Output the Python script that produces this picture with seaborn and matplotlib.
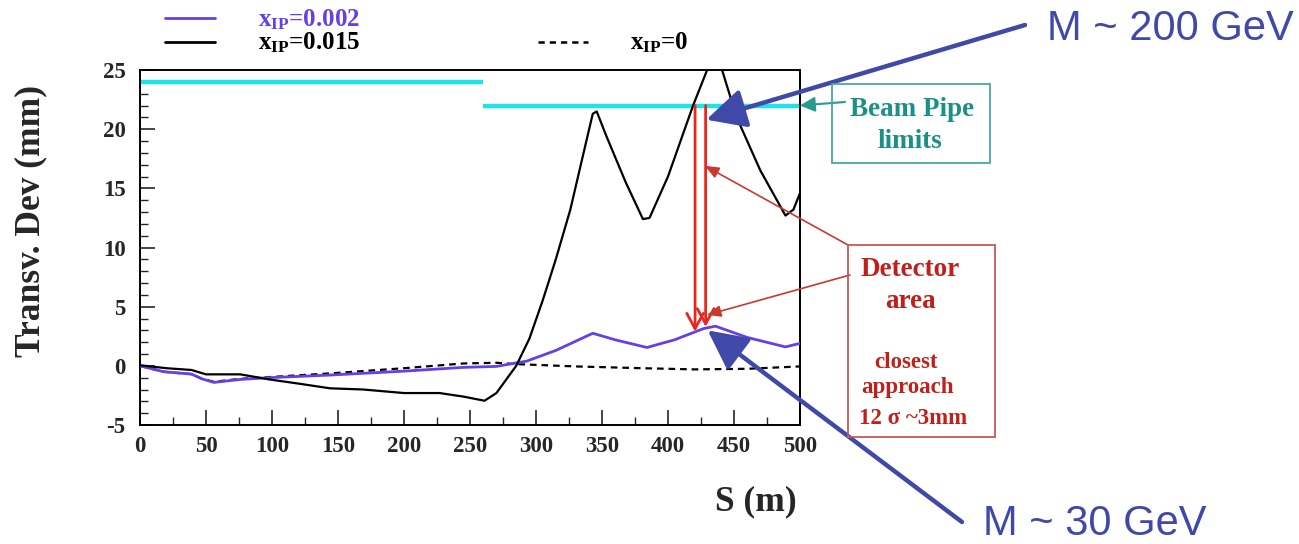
import numpy as np
import pandas as pd
import matplotlib
matplotlib.use("Agg")
import matplotlib.pyplot as plt
from matplotlib.patches import Rectangle
from matplotlib.lines import Line2D
from matplotlib.ticker import MultipleLocator
import seaborn as sns

# ---------------- data ----------------
s_015 = [0, 20, 39, 50, 76, 98, 120, 144, 169, 200, 227, 245, 261, 270, 285, 295,
         305, 315, 326, 335, 343, 346, 353, 368, 381, 386, 400, 419, 436, 452, 470, 489, 495, 500]
v_015 = [0.05, -0.2, -0.35, -0.72, -0.72, -1.15, -1.5, -1.9, -2.0, -2.3, -2.3, -2.6, -2.95, -2.3, 0.0, 2.3,
         5.5, 9.0, 13.2, 17.5, 21.3, 21.5, 19.5, 15.5, 12.4, 12.5, 16.0, 22.0, 26.8, 21.0, 16.5, 12.7, 13.2, 14.6]

s_002 = [0, 18, 39, 47, 56, 76, 98, 144, 200, 245, 270, 293, 315, 343, 360, 384, 405, 427, 436, 460, 489, 500]
v_002 = [0.0, -0.5, -0.7, -1.1, -1.4, -1.15, -1.0, -0.78, -0.45, -0.13, -0.05, 0.4, 1.3, 2.75, 2.2, 1.55, 2.2, 3.15, 3.35, 2.4, 1.6, 1.9]

s_000 = [0, 18, 39, 47, 56, 76, 98, 144, 200, 245, 270, 284, 330, 380, 420, 460, 500]
v_000 = [0.0, -0.5, -0.7, -1.1, -1.35, -1.1, -0.95, -0.64, -0.2, 0.2, 0.26, 0.15, -0.05, -0.2, -0.3, -0.25, -0.05]

pipe_start = [0, 260]
pipe_end = [260, 500]
pipe_limit = [24, 22]

det_s = [420.5, 428.5]
det_top = [22.0, 22.0]
det_bottom = [2.9, 3.3]

x_ticks = list(range(0, 501, 50))
y_ticks = [-5, 0, 5, 10, 15, 20, 25]

W, H = 1299, 544


def fp(x, y):
    return (x / W, 1 - y / H)


sns.set_style("white")
plt.rcParams['font.family'] = ['Liberation Serif', 'DejaVu Serif']
plt.rcParams['font.weight'] = 'bold'
plt.rcParams['axes.unicode_minus'] = False
plt.rcParams['mathtext.fontset'] = 'custom'
plt.rcParams['mathtext.rm'] = 'Liberation Serif:bold'
plt.rcParams['mathtext.it'] = 'Liberation Serif:bold'
plt.rcParams['mathtext.bf'] = 'Liberation Serif:bold'

fig = plt.figure(figsize=(W / 100, H / 100), dpi=100)
ax = fig.add_axes([140 / W, 1 - 425 / H, 660 / W, 355 / H])

PURPLE = '#6440e6'
CYAN = '#1fe3ea'
RED = '#e8281c'
BLUE = '#4049a8'
TEAL = '#1a9088'

# beam pipe limits
ax.hlines(pipe_limit, pipe_start, pipe_end, colors=CYAN, lw=3.2, zorder=2)

sns.lineplot(x=s_000, y=v_000, ax=ax, color='black', lw=1.6, linestyle=(0, (3, 2.2)),
             sort=False, estimator=None, legend=False, zorder=3)
sns.lineplot(x=s_002, y=v_002, ax=ax, color=PURPLE, lw=2.0,
             sort=False, estimator=None, legend=False, zorder=4)
sns.lineplot(x=s_015, y=v_015, ax=ax, color='black', lw=1.6,
             sort=False, estimator=None, legend=False, zorder=5)

ax.set_xlim(0, 500)
ax.set_ylim(-5, 25)
ax.set_xticks(x_ticks)
ax.set_yticks(y_ticks)
ax.xaxis.set_minor_locator(MultipleLocator(25))
ax.yaxis.set_minor_locator(MultipleLocator(1))
ax.tick_params(axis='both', which='major', direction='in', length=11, width=1.2,
               labelsize=16.5, bottom=True, left=True, top=False, right=False)
ax.tick_params(axis='both', which='minor', direction='in', length=5.5, width=1.0,
               bottom=True, left=True, top=False, right=False)
ax.tick_params(axis='x', which='major', pad=8)
ax.tick_params(axis='y', which='major', pad=10.5)
for lbl in ax.get_xticklabels() + ax.get_yticklabels():
    lbl.set_fontweight('bold')
for sp in ax.spines.values():
    sp.set_visible(True)
    sp.set_color('black')
    sp.set_linewidth(1.4)
ax.set_xlabel('')
ax.set_ylabel('')

# axis titles
fig.text(*fp(31, 221), 'Transv. Dev (mm)', rotation=90, ha='center', va='center',
         fontsize=25.5, fontweight='bold')
fig.text(*fp(756, 502), 'S (m)', ha='center', va='center', fontsize=25.5, fontweight='bold')

# legend (manual, above the frame)
fig.add_artist(Line2D([165 / W, 215 / W], [1 - 18 / H] * 2, color=PURPLE, lw=2.0))
fig.add_artist(Line2D([165 / W, 215 / W], [1 - 42 / H] * 2, color='black', lw=2.0))
fig.add_artist(Line2D([538 / W, 588 / W], [1 - 42 / H] * 2, color='black', lw=1.8,
                      linestyle=(0, (2.5, 2))))
fig.text(*fp(258, 20), r'$x_{\rm IP}$=0.002', ha='left', va='center', fontsize=18, color=PURPLE)
fig.text(*fp(258, 43), r'$x_{\rm IP}$=0.015', ha='left', va='center', fontsize=18, color='black')
fig.text(*fp(630, 43), r'$x_{\rm IP}$=0', ha='left', va='center', fontsize=18, color='black')

# red detector-area arrows
for s, yt, yb in zip(det_s, det_top, det_bottom):
    ax.annotate('', xy=(s, yb), xytext=(s, yt), xycoords='data', textcoords='data',
                arrowprops=dict(arrowstyle='->,head_length=0.55,head_width=0.3', color=RED,
                                lw=2.0, mutation_scale=20, shrinkA=0, shrinkB=0), zorder=6)

# Beam pipe box
fig.add_artist(Rectangle(fp(832, 163), 158 / W, 79 / H, transform=fig.transFigure,
                         fill=False, edgecolor='#4aa8a0', lw=1.3))
fig.text(*fp(912, 110), 'Beam Pipe', ha='center', va='center', fontsize=19.5, color=TEAL)
fig.text(*fp(910, 142), 'limits', ha='center', va='center', fontsize=19.5, color=TEAL)
ax.annotate('', xy=(500, pipe_limit[1]), xycoords='data', xytext=(845, H - 102),
            textcoords='figure pixels',
            arrowprops=dict(arrowstyle='-|>,head_length=0.6,head_width=0.3', color='#2a9a90',
                            lw=1.5, mutation_scale=15, shrinkA=0, shrinkB=0), annotation_clip=False)

# Detector box
fig.add_artist(Rectangle(fp(848, 437), 147 / W, 192 / H, transform=fig.transFigure,
                         fill=False, edgecolor='#c05a5a', lw=1.3))
DRED = '#c0201c'
fig.text(*fp(910, 270), 'Detector', ha='center', va='center', fontsize=19.5, color=DRED)
fig.text(*fp(910, 302), 'area', ha='center', va='center', fontsize=19.5, color=DRED)
fig.text(*fp(906, 362), 'closest', ha='center', va='center', fontsize=16.5, color=DRED)
fig.text(*fp(907, 388), 'approach', ha='center', va='center', fontsize=16.5, color=DRED)
fig.text(*fp(913, 418), '12 σ ~3mm', ha='center', va='center', fontsize=16.5, color=DRED)
ax.annotate('', xy=(428, 16.9), xycoords='data', xytext=(848, H - 245), textcoords='figure pixels',
            arrowprops=dict(arrowstyle='-|>,head_length=0.6,head_width=0.25', color='#c83a30',
                            lw=1.2, mutation_scale=14, shrinkA=0, shrinkB=0), annotation_clip=False, zorder=7)
ax.annotate('', xy=(429.5, 4.3), xycoords='data', xytext=(850, H - 275), textcoords='figure pixels',
            arrowprops=dict(arrowstyle='-|>,head_length=0.6,head_width=0.25', color='#c83a30',
                            lw=1.2, mutation_scale=14, shrinkA=0, shrinkB=0), annotation_clip=False, zorder=7)

# Blue mass arrows
ax.annotate('', xy=(429, 20.8), xycoords='data', xytext=(1025, H - 25), textcoords='figure pixels',
            arrowprops=dict(arrowstyle='-|>,head_length=1.2,head_width=0.6', color=BLUE,
                            lw=3.2, mutation_scale=20, shrinkA=0, shrinkB=0), annotation_clip=False, zorder=8)
ax.annotate('', xy=(430, 3.0), xycoords='data', xytext=(962, H - 522), textcoords='figure pixels',
            arrowprops=dict(arrowstyle='-|>,head_length=1.2,head_width=0.6', color=BLUE,
                            lw=3.2, mutation_scale=20, shrinkA=0, shrinkB=0), annotation_clip=False, zorder=8)
fig.text(*fp(1047, 29), 'M ~ 200 GeV', ha='left', va='center', fontsize=30, fontweight='normal',
         family=['Liberation Sans', 'DejaVu Sans'], color=BLUE)
fig.text(*fp(983, 524), 'M ~ 30 GeV', ha='left', va='center', fontsize=30, fontweight='normal',
         family=['Liberation Sans', 'DejaVu Sans'], color=BLUE)

fig.savefig('out.png', dpi=100)
